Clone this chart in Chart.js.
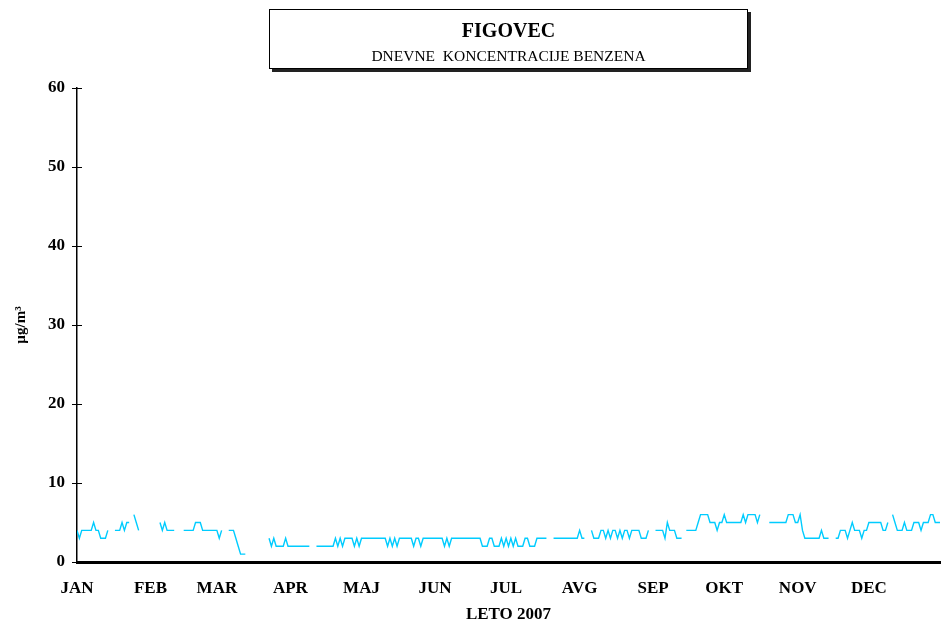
<!DOCTYPE html>
<html>
<head>
<meta charset="utf-8">
<script src="https://cdn.jsdelivr.net/npm/chart.js@4/dist/chart.umd.min.js"></script>
<style>
  html, body { margin: 0; padding: 0; background: #fff; }
  #wrap { position: relative; width: 941px; height: 622px; }
  #c { position: absolute; left: 0; top: 0; }
  #titlebox {
    position: absolute; left: 269px; top: 9px; width: 477px; height: 58px;
    border: 1px solid #000; background: #fff; box-shadow: 3px 3px 0 #222;
    font-family: "Liberation Serif", "Times New Roman", serif; text-align: center; color: #000;
  }
  #t1 { font-weight: bold; font-size: 20px; margin-top: 9px; line-height: 23px; }
  #t2 { font-size: 15.5px; margin-top: 5px; line-height: 18px; white-space: pre; }
</style>
</head>
<body>
<div id="wrap">
  <canvas id="c" width="941" height="622"></canvas>
  <div id="titlebox"><div id="t1">FIGOVEC</div><div id="t2">DNEVNE  KONCENTRACIJE BENZENA</div></div>
</div>
<script>
// Daily benzene concentrations (µg/m3), 2007, one array per month (null = missing day)
const jan = [4,3,4,4,4,4,4,5,4,4,3,3,3,4,null,null,4,4,4,5,4,5,5,null,6,5,4,null,null,null,null];
const feb = [null,null,null,null,5,4,5,4,4,4,4,null,null,null,4,4,4,4,4,5,5,5,4,4,4,4,4,4];
const mar = [4,3,4,null,null,4,4,4,3,2,1,1,1,null,null,null,null,null,null,null,null,null,3,2,3,2,2,2,2,3,2];
const apr = [2,2,2,2,2,2,2,2,2,null,null,2,2,2,2,2,2,2,2,3,2,3,2,3,3,3,3,2,3,2];
const maj = [3,3,3,3,3,3,3,3,3,3,3,2,3,2,3,2,3,3,3,3,3,3,2,3,3,2,3,3,3,3,3];
const jun = [3,3,3,3,2,3,2,3,3,3,3,3,3,3,3,3,3,3,3,3,2,2,2,3,3,2,2,2,3,2];
const jul = [3,2,3,2,3,2,2,2,3,3,2,2,2,3,3,3,3,3,null,null,3,3,3,3,3,3,3,3,3,3,3];
const avg = [4,3,3,null,null,4,3,3,3,4,4,3,4,3,4,4,3,4,3,4,4,3,4,4,4,4,3,3,3,4,null];
const sep = [null,4,4,4,4,3,5,4,4,4,3,3,3,null,4,4,4,4,4,5,6,6,6,6,5,5,5,4,5,5];
const okt = [6,5,5,5,5,5,5,5,6,5,6,6,6,6,5,6,null,null,null,5,5,5,5,5,5,5,5,6,6,6,5];
const nov = [5,6,4,3,3,3,3,3,3,3,4,3,3,3,null,null,3,3,4,4,4,3,4,5,4,4,4,3,4,4];
const dec = [5,5,5,5,5,5,4,4,5,null,6,5,4,4,4,5,4,4,4,5,5,5,4,5,5,5,6,6,5,5,5];

const monthLabels = ["JAN","FEB","MAR","APR","MAJ","JUN","JUL","AVG","SEP","OKT","NOV","DEC"];
const monthStarts = [0,31,59,90,120,151,181,212,243,273,304,334];
const yTicks = [0,10,20,30,40,50,60];

const daily = [].concat(jan, feb, mar, apr, maj, jun, jul, avg, sep, okt, nov, dec);
const points = daily.map((v, i) => ({ x: i, y: v }));

const FONT = '"Liberation Serif", "Times New Roman", serif';

const crossTicks = {
  id: 'crossTicks',
  afterDraw(chart) {
    const y = chart.scales.y, ctx = chart.ctx;
    const x0 = chart.chartArea.left;
    ctx.save();
    ctx.strokeStyle = '#000';
    ctx.lineWidth = 1;
    y.ticks.forEach(t => {
      const py = Math.round(y.getPixelForValue(t.value)) + 0.5;
      ctx.beginPath();
      ctx.moveTo(x0 - 5, py);
      ctx.lineTo(x0 + 5, py);
      ctx.stroke();
    });
    ctx.restore();
  }
};

new Chart(document.getElementById('c'), {
  type: 'line',
  data: {
    datasets: [{
      data: points,
      borderColor: '#00ccff',
      borderWidth: 1.4,
      pointRadius: 0,
      spanGaps: false,
      tension: 0
    }]
  },
  options: {
    responsive: false,
    animation: false,
    layout: { padding: { top: 88, right: 1, left: 0, bottom: 0 } },
    plugins: { legend: { display: false }, tooltip: { enabled: false }, title: { display: false } },
    scales: {
      x: {
        type: 'linear', min: 0, max: 364,
        grid: { display: false, drawTicks: false },
        border: { display: true, color: '#000', width: 3 },
        afterBuildTicks: s => { s.ticks = monthStarts.map(v => ({ value: v })); },
        afterFit: s => { s.height = 60; },
        ticks: {
          autoSkip: false, maxRotation: 0, padding: 16,
          color: '#000', font: { family: FONT, size: 17, weight: 'bold' },
          callback: (v, i) => monthLabels[i]
        },
        title: { display: true, text: 'LETO 2007', color: '#000', font: { family: FONT, size: 17, weight: 'bold' }, padding: { top: 0, bottom: -3 } }
      },
      y: {
        min: 0, max: 60,
        grid: { display: false, drawTicks: false },
        border: { display: true, color: '#000', width: 1.5 },
        afterBuildTicks: s => { s.ticks = yTicks.map(v => ({ value: v })); },
        afterFit: s => { s.width = 77; },
        ticks: { padding: 12, color: '#000', font: { family: FONT, size: 17, weight: 'bold' } },
        title: { display: true, text: 'µg/m³', color: '#000', font: { family: FONT, size: 15, weight: 'bold' }, padding: { top: 12, bottom: 0 } }
      }
    }
  },
  plugins: [crossTicks]
});
</script>
</body>
</html>
